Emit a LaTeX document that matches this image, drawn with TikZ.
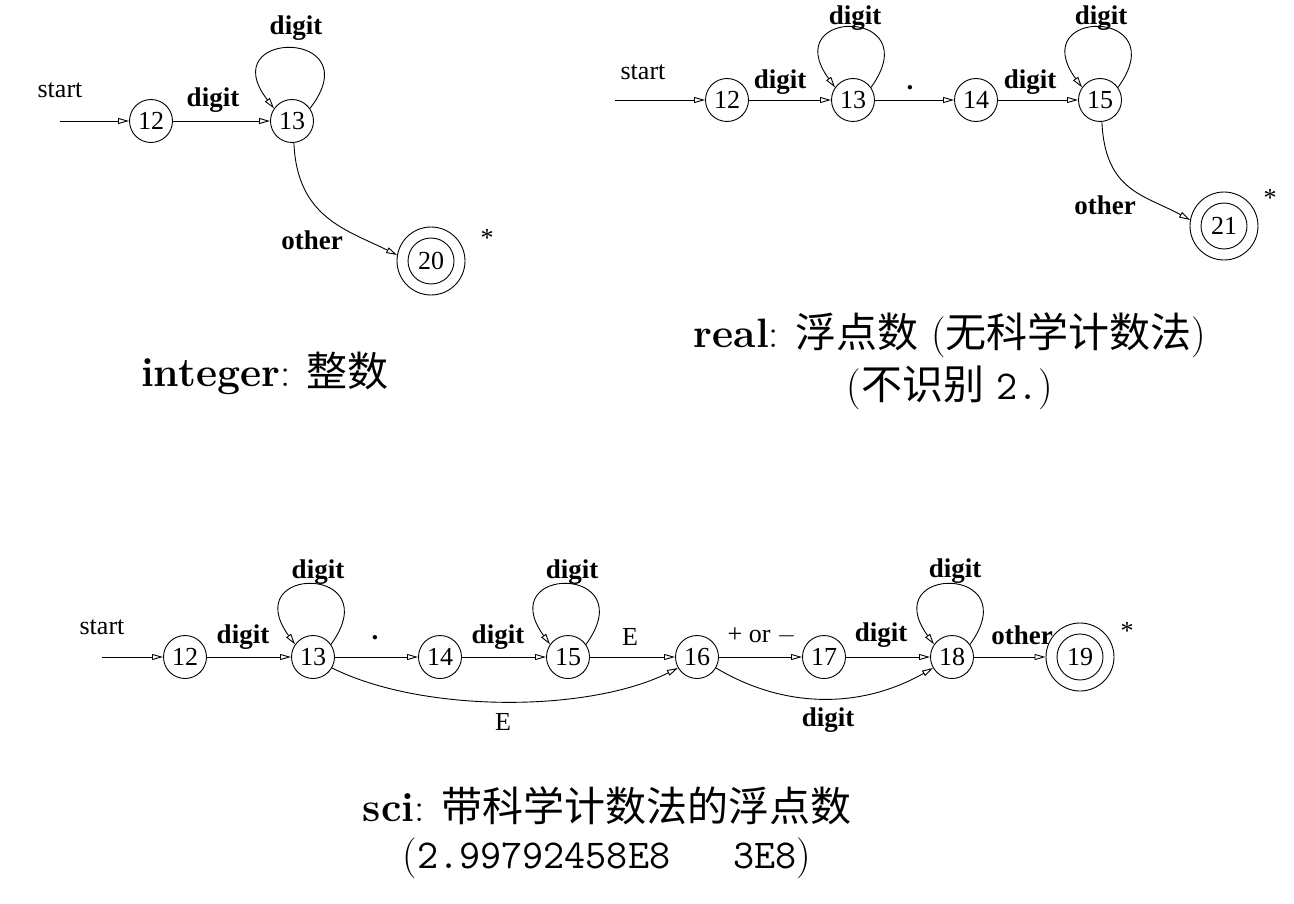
\documentclass[tikz,border=0pt]{standalone}
\usepackage{fontspec}
\newfontfamily\tnr{Liberation Serif}
\newfontfamily\cjk{Noto Sans CJK SC}
\usetikzlibrary{arrows.meta}
\tikzset{
 st/.style={circle,draw,line width=0.9pt,minimum size=43pt,inner sep=0pt,font=\tnr\fontsize{26}{26}\selectfont},
 acc/.style={st,minimum size=68pt,path picture={\draw[line width=0.9pt] (path picture bounding box.center) circle (23pt);}},
 tr/.style={line width=0.9pt,-{Triangle[open,length=11pt,width=6pt]}},
 loopy/.style={tr},
 lbl/.style={font=\tnr\bfseries\fontsize{27}{27}\selectfont, inner sep=0pt},
 lblr/.style={font=\tnr\fontsize{26}{26}\selectfont, inner sep=0pt},
 captxt/.style={font=\fontsize{41}{48}\selectfont, inner sep=0pt}
}
\begin{document}
\begin{tikzpicture}[x=1pt,y=-1pt]
\useasboundingbox (0,0) rectangle (1294,904);
% ---------- integer ----------
\node[st] (a12) at (151,121) {12};
\node[st] (a13) at (292,121) {13};
\node[acc] (a20) at (431,261) {20};
\coordinate (a0) at (60,121);
\node[lblr] (astart) at (60,90) {start};
\draw[tr] (a0) -- (a12);
\draw[tr] (a12) -- (a13);
\node[lbl] (ad1) at (213,100) {digit};
\draw[loopy] (a13.35) .. controls +(62,-80) and +(-62,-80) .. (a13.145);
\node[lbl] (ad2) at (296,28) {digit};
\draw[tr] (a13.275) .. controls +(3,75) and +(-50,-25) .. (a20.170);
\node[lbl] (aoth) at (312,240) {other};
\node[lblr] (aast) at (487,238) {*};
\node[captxt] (acap) at (265,373) {\textbf{integer}: {\cjk 整数}};
% ---------- real ----------
\node[st] (b12) at (727,100) {12};
\node[st] (b13) at (853,100) {13};
\node[st] (b14) at (976,100) {14};
\node[st] (b15) at (1100,100) {15};
\node[acc] (b21) at (1224,226) {21};
\coordinate (b0) at (615,100);
\node[lblr] (bstart) at (643,72) {start};
\draw[tr] (b0) -- (b12);
\draw[tr] (b12) -- (b13);
\draw[tr] (b13) -- (b14);
\draw[tr] (b14) -- (b15);
\node[lbl] (bd1) at (780,82) {digit};
\node[lbl] (bdot) at (910,88) {.};
\node[lbl] (bd2) at (1030,82) {digit};
\draw[loopy] (b13.35) .. controls +(58,-80) and +(-58,-80) .. (b13.145);
\draw[loopy] (b15.35) .. controls +(58,-80) and +(-58,-80) .. (b15.145);
\node[lbl] (bd3) at (855,18) {digit};
\node[lbl] (bd4) at (1101,18) {digit};
\draw[tr] (b15.275) .. controls +(3,70) and +(-45,-25) .. (b21.170);
\node[lbl] (both) at (1105,205) {other};
\node[lblr] (bast) at (1270,198) {*};
\node[captxt] (bcap1) at (950,335) {\textbf{real}: {\cjk 浮点数} ({\cjk 无科学计数法})};
\node[captxt] (bcap2) at (950,388) {({\cjk 不识别} \texttt{2.})};
% ---------- sci ----------
\node[st] (c12) at (185,657) {12};
\node[st] (c13) at (313,657) {13};
\node[st] (c14) at (440,657) {14};
\node[st] (c15) at (568,657) {15};
\node[st] (c16) at (697,657) {16};
\node[st] (c17) at (824,657) {17};
\node[st] (c18) at (952,657) {18};
\node[acc] (c19) at (1080,657) {19};
\coordinate (c0) at (102,657);
\node[lblr] (cstart) at (102,627) {start};
\draw[tr] (c0) -- (c12);
\draw[tr] (c12) -- (c13);
\draw[tr] (c13) -- (c14);
\draw[tr] (c14) -- (c15);
\draw[tr] (c15) -- (c16);
\draw[tr] (c16) -- (c17);
\draw[tr] (c17) -- (c18);
\draw[tr] (c18) -- (c19);
\node[lbl] (cd1) at (243,637) {digit};
\node[lbl] (cdot) at (375,638) {.};
\node[lbl] (cd2) at (498,637) {digit};
\node[lblr] (cE1) at (630,637) {E};
\node[lblr] (cpm) at (762,636) {+ or $-$};
\node[lbl] (cd3) at (881,635) {digit};
\node[lbl] (coth) at (1022,635) {other};
\node[lblr] (cast) at (1127,631) {*};
\draw[loopy] (c13.35) .. controls +(58,-80) and +(-58,-80) .. (c13.145);
\draw[loopy] (c15.35) .. controls +(58,-80) and +(-58,-80) .. (c15.145);
\draw[loopy] (c18.35) .. controls +(58,-80) and +(-58,-80) .. (c18.145);
\node[lbl] (cd4) at (318,572) {digit};
\node[lbl] (cd5) at (572,572) {digit};
\node[lbl] (cd6) at (955,571) {digit};
\draw[tr] (c13.-30) .. controls +(90,45) and +(-90,45) .. (c16.-150);
\draw[tr] (c16.-30) .. controls +(70,42) and +(-70,40) .. (c18.-150);
\node[lblr] (cE2) at (503,722) {E};
\node[lbl] (cd7) at (828,720) {digit};
\node[captxt] (ccap1) at (607,806) {\textbf{sci}: {\cjk 带科学计数法的浮点数}};
\node[captxt] (ccap2) at (607,858) {(\texttt{2.99792458E8\ \ \ 3E8})};
\end{tikzpicture}
\end{document}
